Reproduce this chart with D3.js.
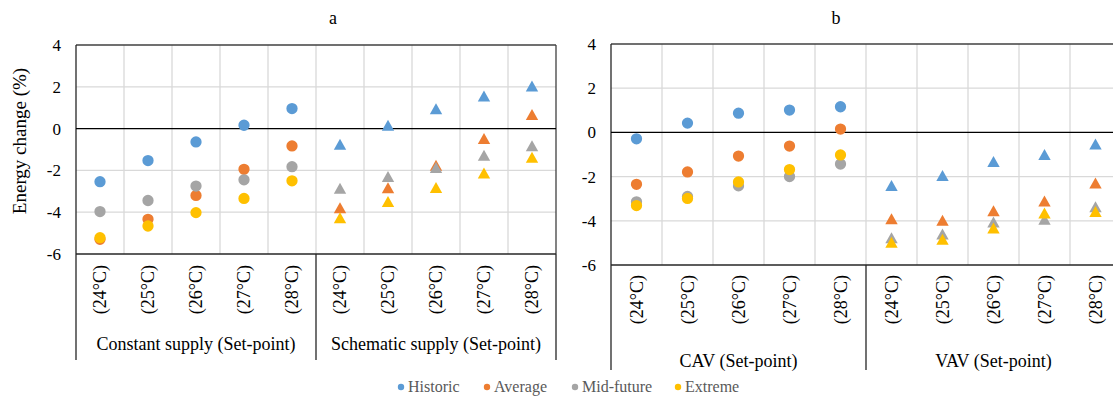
<!DOCTYPE html>
<html>
<head>
<meta charset="utf-8">
<script src="https://cdn.jsdelivr.net/npm/d3@7"></script>
<style>
  body { margin: 0; background: #fff; }
</style>
</head>
<body>
<div id="chart"></div>
<script>
// Set-point temperatures (same for every group)
var setPoints = ["(24°C)", "(25°C)", "(26°C)", "(27°C)", "(28°C)"];
var groupsA = ["Constant supply (Set-point)", "Schematic supply (Set-point)"];
var groupsB = ["CAV (Set-point)", "VAV (Set-point)"];
var seriesNames = ["Historic", "Average", "Mid-future", "Extreme"];
var seriesColors = ["#5B9BD5", "#ED7D31", "#A5A5A5", "#FFC000"];
var yTicks = [4, 2, 0, -2, -4, -6];

// panel a values, 10 categories (5 constant supply, 5 schematic supply)
var historicA  = [-2.54, -1.53, -0.64, 0.16, 0.96, -0.75, 0.16, 0.94, 1.55, 2.03];
var averageA   = [-5.30, -4.34, -3.20, -1.95, -0.83, -3.79, -2.83, -1.76, -0.48, 0.67];
var midFutureA = [-3.97, -3.44, -2.75, -2.45, -1.82, -2.86, -2.30, -1.87, -1.28, -0.83];
var extremeA   = [-5.22, -4.66, -4.02, -3.34, -2.50, -4.27, -3.49, -2.82, -2.13, -1.38];

// panel b values, 10 categories (5 CAV, 5 VAV)
var historicB  = [-0.29, 0.42, 0.87, 1.01, 1.16, -2.41, -1.95, -1.32, -1.01, -0.53];
var averageB   = [-2.35, -1.79, -1.07, -0.62, 0.15, -3.91, -3.98, -3.55, -3.11, -2.29];
var midFutureB = [-3.14, -2.90, -2.42, -2.00, -1.43, -4.77, -4.60, -4.06, -3.94, -3.37];
var extremeB   = [-3.31, -2.99, -2.24, -1.68, -1.02, -4.98, -4.84, -4.33, -3.65, -3.58];

var FONT = "'Liberation Serif', 'DejaVu Serif', serif";

var svg = d3.select("#chart")
  .append("svg")
  .attr("width", 1113)
  .attr("height", 397)
  .attr("font-family", FONT);

function drawPanel(p) {
  var cats = [];
  p.groups.forEach(function(g, gi) {
    setPoints.forEach(function(s, si) { cats.push(gi + "|" + si); });
  });

  var x = d3.scaleBand().domain(cats).range([p.left, p.right]);
  var y = d3.scaleLinear().domain([-6, 4]).range([p.bottom, p.top]);

  var g = svg.append("g");

  // horizontal gridlines
  g.selectAll(".hgrid")
    .data(yTicks.filter(function(t) { return t !== 0 && t !== -6 && t !== 4; }))
    .enter().append("line")
    .attr("x1", p.left).attr("x2", p.right)
    .attr("y1", function(d) { return y(d); }).attr("y2", function(d) { return y(d); })
    .attr("stroke", "#D9D9D9").attr("stroke-width", 1.3);

  // vertical gridlines between categories
  g.selectAll(".vgrid")
    .data(cats.slice(1))
    .enter().append("line")
    .attr("x1", function(d) { return x(d); }).attr("x2", function(d) { return x(d); })
    .attr("y1", p.top).attr("y2", p.bottom)
    .attr("stroke", "#D9D9D9").attr("stroke-width", 1.3);

  // plot frame
  g.append("line").attr("x1", p.left).attr("x2", p.right).attr("y1", p.top).attr("y2", p.top)
    .attr("stroke", "#404040").attr("stroke-width", 1.3);
  g.append("line").attr("x1", p.right).attr("x2", p.right).attr("y1", p.top).attr("y2", p.bottom)
    .attr("stroke", "#404040").attr("stroke-width", 1.3);
  g.append("line").attr("x1", p.left).attr("x2", p.left).attr("y1", p.top).attr("y2", p.catBottom)
    .attr("stroke", "#262626").attr("stroke-width", 1.3);
  g.append("line").attr("x1", p.left).attr("x2", p.right).attr("y1", y(0)).attr("y2", y(0))
    .attr("stroke", "#000").attr("stroke-width", 1.2);
  g.append("line").attr("x1", p.left).attr("x2", p.right).attr("y1", y(-6)).attr("y2", y(-6))
    .attr("stroke", "#262626").attr("stroke-width", 1.3);

  // group separators in the category area
  [5, 10].forEach(function(i) {
    var xx = i < cats.length ? x(cats[i]) : p.right;
    g.append("line").attr("x1", xx).attr("x2", xx).attr("y1", p.bottom).attr("y2", p.catBottom)
      .attr("stroke", "#262626").attr("stroke-width", 1.3);
  });

  // y tick labels
  var yAxis = g.append("g")
    .attr("transform", "translate(" + p.tickX + ",0)")
    .call(d3.axisLeft(y).tickValues(yTicks).tickSize(0).tickPadding(0).tickFormat(d3.format("d")));
  yAxis.select(".domain").remove();
  yAxis.attr("font-family", FONT).attr("font-size", 17);
  yAxis.selectAll("text")
    .attr("fill", "#000")
    .text(function(d) { return d < 0 ? "-" + Math.abs(d) : d; });

  // category labels (rotated)
  g.selectAll(".cat")
    .data(cats)
    .enter().append("text")
    .attr("transform", function(d) {
      return "translate(" + (x(d) + x.bandwidth() / 2 + 6) + "," + p.catTop + ") rotate(-90)";
    })
    .attr("text-anchor", "end")
    .attr("font-size", 18)
    .text(function(d) { return setPoints[+d.split("|")[1]]; });

  // group labels
  p.groups.forEach(function(name, gi) {
    var c0 = x(gi + "|0"), c1 = x(gi + "|4") + x.bandwidth();
    g.append("text")
      .attr("x", (c0 + c1) / 2)
      .attr("y", p.groupY)
      .attr("text-anchor", "middle")
      .attr("font-size", 18)
      .text(name);
  });

  // title
  g.append("text")
    .attr("x", p.titleX).attr("y", 24)
    .attr("text-anchor", "middle")
    .attr("font-size", 18)
    .text(p.title);

  // markers: circles for the first group, triangles for the second
  var tri = "M0,-5.6L6.2,5.4L-6.2,5.4Z";
  p.series.forEach(function(vals, si) {
    var pts = vals.map(function(v, i) { return { c: cats[i], v: v, i: i }; });
    g.append("g").selectAll("path")
      .data(pts)
      .enter().append("path")
      .attr("transform", function(d) {
        return "translate(" + (x(d.c) + x.bandwidth() / 2) + "," + y(d.v) + ")";
      })
      .attr("d", function(d) { return d.i < 5 ? d3.symbol(d3.symbolCircle, 100)() : tri; })
      .attr("fill", seriesColors[si]);
  });
}

drawPanel({
  title: "a", titleX: 333,
  left: 76, right: 556, top: 45, bottom: 254, catBottom: 360,
  tickX: 61, catTop: 265, groupY: 350,
  groups: groupsA,
  series: [historicA, averageA, midFutureA, extremeA]
});

drawPanel({
  title: "b", titleX: 836,
  left: 611, right: 1121, top: 44, bottom: 265, catBottom: 370,
  tickX: 596, catTop: 275, groupY: 367,
  groups: groupsB,
  series: [historicB, averageB, midFutureB, extremeB]
});

// y axis title
svg.append("text")
  .attr("transform", "translate(26,141) rotate(-90)")
  .attr("text-anchor", "middle")
  .attr("font-size", 19)
  .text("Energy change (%)");

// legend
var legendX = [401, 487, 575, 678];
var legend = svg.append("g");
seriesNames.forEach(function(name, i) {
  legend.append("circle")
    .attr("cx", legendX[i]).attr("cy", 387).attr("r", 3.2)
    .attr("fill", seriesColors[i]);
  legend.append("text")
    .attr("x", legendX[i] + 7).attr("y", 392)
    .attr("font-size", 16)
    .attr("fill", "#595959")
    .text(name);
});
</script>
</body>
</html>
